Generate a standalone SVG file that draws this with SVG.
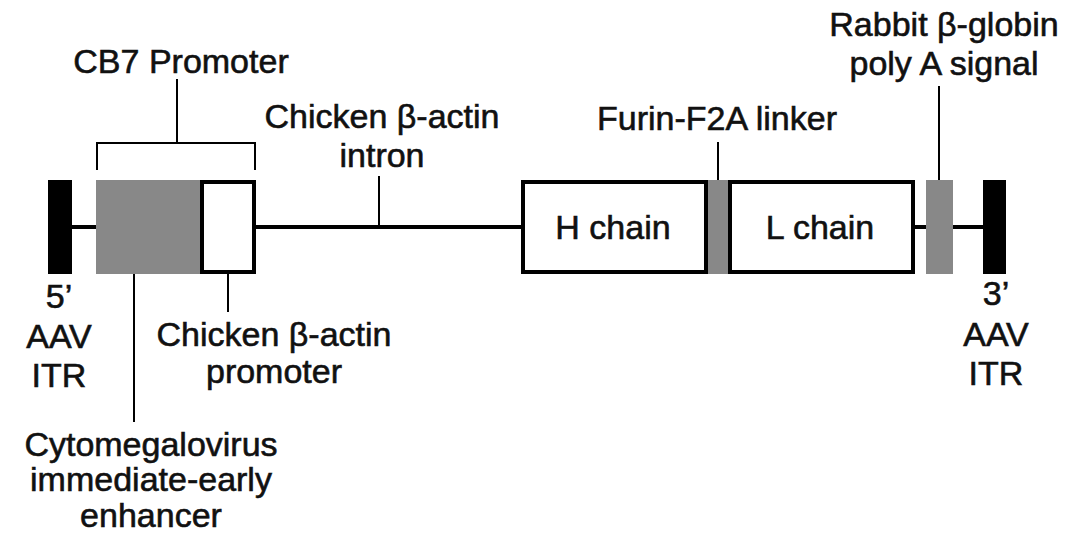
<svg xmlns="http://www.w3.org/2000/svg" width="1091" height="535" viewBox="0 0 1091 535">
<style>
text{font-family:"Liberation Sans",Arial,sans-serif;font-size:34px;fill:#111;stroke:#111;stroke-width:0.6;text-anchor:middle}
.itr{fill:#000}
.gray{fill:#888}
.box{fill:#fff;stroke:#000;stroke-width:4}
.bb{stroke:#000;stroke-width:4;fill:none}
.lead{stroke:#000;stroke-width:2;fill:none}
</style>
<rect width="1091" height="535" fill="#fff"/>
<g id="connectors">
<path class="bb" d="M72 227H96M256 227H521M915 227H926M953 227H983"/>
<path class="lead" d="M97 170V143H255V170M177 143V79"/>
<path class="lead" d="M379 226V176"/>
<path class="lead" d="M718 180V142"/>
<path class="lead" d="M939 180V86"/>
<path class="lead" d="M228 274V312"/>
<path class="lead" d="M134 274V422"/>
</g>
<g id="itr5">
<rect class="itr" x="48" y="180" width="24" height="94"/>
<text x="59" y="308">5’</text>
<text x="59" y="348">AAV</text>
<text x="59" y="387">ITR</text>
</g>
<g id="cb7">
<text x="181" y="73">CB7 Promoter</text>
</g>
<g id="enhancer">
<rect class="gray" x="96" y="180" width="104" height="94"/>
<text x="151" y="456">Cytomegalovirus</text>
<text x="151" y="491">immediate-early</text>
<text x="151" y="527">enhancer</text>
</g>
<g id="promoter">
<rect class="box" x="202" y="182" width="52" height="90"/>
<text x="274" y="346">Chicken β-actin</text>
<text x="274" y="383">promoter</text>
</g>
<g id="intron">
<text x="382" y="128">Chicken β-actin</text>
<text x="382" y="167">intron</text>
</g>
<g id="hchain">
<rect class="box" x="523" y="182" width="183" height="90"/>
<text x="613" y="239">H chain</text>
</g>
<g id="linker">
<rect class="gray" x="708" y="180" width="20" height="94"/>
<text x="717" y="130">Furin-F2A linker</text>
</g>
<g id="lchain">
<rect class="box" x="730" y="182" width="183" height="90"/>
<text x="820" y="239">L chain</text>
</g>
<g id="polya">
<rect class="gray" x="926" y="180" width="27" height="94"/>
<text x="944" y="36">Rabbit β-globin</text>
<text x="944" y="75">poly A signal</text>
</g>
<g id="itr3">
<rect class="itr" x="983" y="180" width="23" height="94"/>
<text x="996" y="305">3’</text>
<text x="996" y="346">AAV</text>
<text x="996" y="385">ITR</text>
</g>
</svg>
